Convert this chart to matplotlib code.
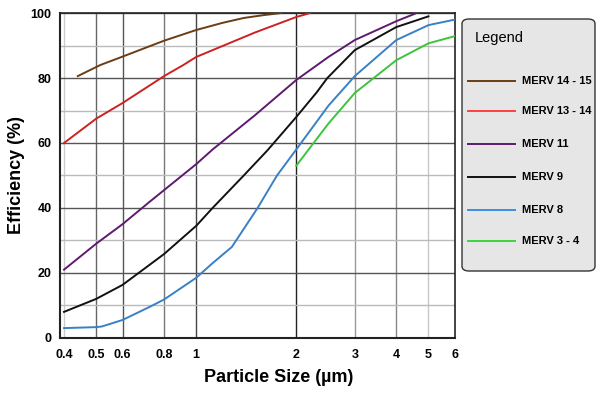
import numpy as np
import matplotlib
matplotlib.use("Agg")
import matplotlib.pyplot as plt
from matplotlib.patches import FancyBboxPatch
from matplotlib.lines import Line2D

plt.rcParams.update({
    "font.family": ["Liberation Sans Narrow", "Liberation Sans", "DejaVu Sans"],
    "font.weight": "bold",
})

# =============================
#  Data
# =============================
labels = ["MERV 14 - 15", "MERV 13 - 14", "MERV 11", "MERV 9", "MERV 8", "MERV 3 - 4"]
colors = ["#6b3d14", "#cc2222", "#5e1a6e", "#111111", "#3a80c4", "#3cc43c"]
legend_colors = ["#6b3d14", "#ff4040", "#5e1a6e", "#111111", "#3a8ee0", "#3cd43c"]

x_merv15 = [0.44, 0.514, 0.6, 0.8, 1.0, 1.2, 1.39, 1.6, 1.8]
y_merv15 = [80.6, 84.0, 86.6, 91.5, 94.8, 97.0, 98.5, 99.4, 100.0]

x_merv14 = [0.4, 0.5, 0.6, 0.8, 0.914, 1.0, 1.5, 2.0, 2.2]
y_merv14 = [60.0, 67.5, 72.3, 80.6, 84.0, 86.5, 94.0, 98.8, 100.0]

x_merv11 = [0.4, 0.5, 0.6, 0.726, 1.0, 1.12, 1.5, 2.0, 2.5, 3.0, 4.0, 4.6]
y_merv11 = [21.0, 29.0, 35.0, 42.0, 53.5, 58.0, 68.5, 79.4, 86.5, 91.7, 97.5, 100.0]

x_merv9 = [0.4, 0.5, 0.6, 0.8, 1.0, 1.12, 1.39, 1.64, 2.0, 2.3, 2.48, 3.0, 4.0, 5.0]
y_merv9 = [8.0, 12.0, 16.3, 25.8, 34.5, 40.0, 50.0, 57.8, 68.0, 75.5, 80.0, 88.6, 95.7, 99.0]

x_merv8 = [0.4, 0.5, 0.52, 0.6, 0.726, 0.8, 1.0, 1.12, 1.28, 1.53, 1.75, 2.0, 2.5, 3.0, 4.0, 5.0, 6.0]
y_merv8 = [3.0, 3.3, 3.5, 5.5, 9.6, 11.8, 18.5, 23.0, 28.0, 40.0, 50.0, 58.0, 71.5, 80.6, 91.7, 96.3, 98.0]

x_merv4 = [2.0, 2.5, 3.0, 4.0, 5.0, 6.0]
y_merv4 = [53.0, 66.0, 75.4, 85.5, 90.7, 92.9]

series = [(x_merv15, y_merv15), (x_merv14, y_merv14), (x_merv11, y_merv11),
          (x_merv9, y_merv9), (x_merv8, y_merv8), (x_merv4, y_merv4)]

x_ticks = [0.4, 0.5, 0.6, 0.8, 1, 2, 3, 4, 5, 6]
x_ticklabels = ["0.4", "0.5", "0.6", "0.8", "1", "2", "3", "4", "5", "6"]
y_ticks = [0, 20, 40, 60, 80, 100]

# =============================
#  Figure
# =============================
fig = plt.figure(figsize=(6.0, 3.97), dpi=100)
ax = fig.add_axes([0.1, 0.149, 0.658, 0.818])

for (xs, ys), c in zip(series, colors):
    ax.plot(xs, ys, color=c, linewidth=1.4, zorder=5)

ax.set_xscale("log")
ax.set_xlim(0.389, 6.0)
ax.set_ylim(0, 100)

ax.set_xticks(x_ticks)
ax.set_xticklabels(x_ticklabels)
ax.xaxis.set_minor_locator(matplotlib.ticker.NullLocator())
ax.set_yticks(y_ticks)
ax.set_yticks([10, 30, 50, 70, 90], minor=True)
ax.tick_params(axis="both", which="both", length=0, labelsize=9, pad=6)
ax.tick_params(axis="x", pad=8)

# --- grid ---
ax.grid(axis="y", which="major", color="#555555", linewidth=1.0, zorder=0)
ax.grid(axis="y", which="minor", color="#bbbbbb", linewidth=1.0, zorder=0)
ax.grid(axis="x", which="major", color="#777777", linewidth=1.0, zorder=0)
xgrid_colors = ["#cccccc", "#666666", "#555555", "#777777", "#444444", "#222222",
                "#999999", "#888888", "#c8c8c8", "#ffffff"]
for gl, gc in zip(ax.get_xgridlines(), xgrid_colors):
    gl.set_color(gc)

for name, spine in ax.spines.items():
    spine.set_color("#222222")
    spine.set_linewidth(1.5 if name in ("left", "bottom") else 1.2)

ax.set_xlabel("Particle Size (\u00b5m)", fontsize=13, family=["Liberation Sans", "DejaVu Sans"],
              fontweight="bold")
ax.xaxis.set_label_coords(0.553, -0.095)
ax.set_ylabel("Efficiency (%)", fontsize=13, family=["Liberation Sans", "DejaVu Sans"],
              fontweight="bold")
ax.yaxis.set_label_coords(-0.088, 0.5)

# --- legend box ---
box = FancyBboxPatch((462 / 600, 1 - 271 / 397), 133 / 600, 252 / 397,
                     boxstyle="round,pad=0,rounding_size=0.012",
                     transform=fig.transFigure, facecolor="#e6e6e6",
                     edgecolor="#333333", linewidth=1.0)
fig.patches.append(box)
fig.text(475 / 600, 1 - 38 / 397, "Legend", fontsize=10.5, fontweight="normal",
         family=["Liberation Sans", "DejaVu Sans"], va="center", ha="left")
row_y = [81, 111, 144, 177, 210, 241]
for lab, c, ry in zip(labels, legend_colors, row_y):
    yy = 1 - ry / 397
    fig.add_artist(Line2D([468 / 600, 515 / 600], [yy, yy], color=c, linewidth=1.4,
                          transform=fig.transFigure))
    fig.text(522 / 600, yy, lab, fontsize=8, fontweight="bold", va="center", ha="left")

fig.savefig("out.png", dpi=100)
